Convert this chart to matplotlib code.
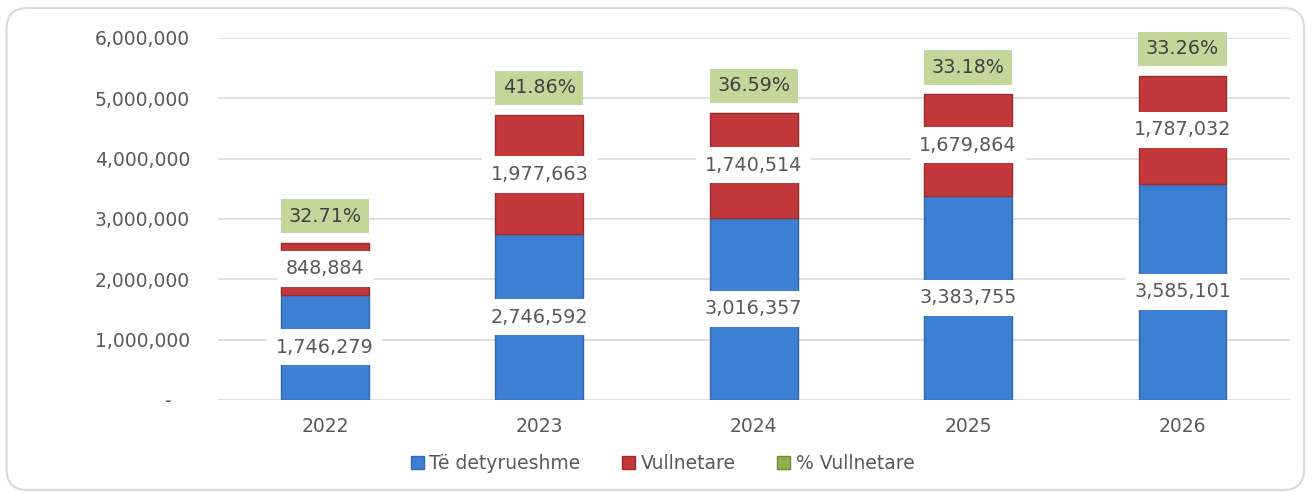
import matplotlib.pyplot as plt
from matplotlib.patches import FancyBboxPatch, Patch
from matplotlib.ticker import FuncFormatter

# te dhenat
years = ['2022', '2023', '2024', '2025', '2026']
detyrueshme = [1746279, 2746592, 3016357, 3383755, 3585101]
vullnetare = [848884, 1977663, 1740514, 1679864, 1787032]
pct_vullnetare = [32.71, 41.86, 36.59, 33.18, 33.26]

blue = '#3d7fd3'
red = '#c3383a'
green = '#c4d79b'
txt = '#595959'

fig = plt.figure(figsize=(13.12, 4.98), dpi=100)
ax = fig.add_axes([0.166, 0.197, 0.817, 0.727])

# kornizë e rrumbullakosur
frame = FancyBboxPatch((0.005, 0.016), 0.989, 0.968, boxstyle='round,pad=0,rounding_size=0.016',
                       transform=fig.transFigure, facecolor='none', edgecolor='#d9d9d9',
                       linewidth=1.5, mutation_aspect=1312 / 498)
fig.patches.append(frame)

x = range(len(years))
w = 0.41
b1 = ax.bar(x, detyrueshme, w, color=blue, edgecolor='#3468ad', linewidth=1, zorder=2)
b2 = ax.bar(x, vullnetare, w, bottom=detyrueshme, color=red, edgecolor='#9a2a2c', linewidth=1, zorder=2)

box = dict(boxstyle='square,pad=0.45', facecolor='white', edgecolor='none')
for i in x:
    ax.text(i, detyrueshme[i] / 2, f'{detyrueshme[i]:,}', ha='center', va='center',
            fontsize=13.8, color=txt, bbox=box, zorder=3)
    ax.text(i, detyrueshme[i] + vullnetare[i] / 2, f'{vullnetare[i]:,}', ha='center', va='center',
            fontsize=13.8, color=txt, bbox=box, zorder=3)
    ax.annotate(f'{pct_vullnetare[i]:.2f}%', (i, detyrueshme[i] + vullnetare[i]),
                xytext=(0, 27), textcoords='offset pixels', ha='center', va='center',
                fontsize=13.8, color='#404040', zorder=3,
                bbox=dict(boxstyle='square,pad=0.4', facecolor=green, edgecolor='none'))

ax.set_xlim(-0.5, len(years) - 0.5)
ax.set_ylim(0, 6000000)
ax.set_yticks(range(0, 6000001, 1000000))
ax.yaxis.set_major_formatter(FuncFormatter(lambda v, p: '-   ' if v == 0 else f'{int(v):,}'))
ax.set_xticks(list(x))
ax.set_xticklabels(years)
ax.grid(axis='y', color='#d9d9d9', linewidth=1.2, zorder=0)
ax.set_axisbelow(True)
for s in ax.spines.values():
    s.set_visible(False)
ax.tick_params(length=0, labelsize=13.5, colors=txt, pad=12)
ax.tick_params(axis='y', pad=20)

handles = [Patch(facecolor=blue, edgecolor='#3468ad'),
           Patch(facecolor=red, edgecolor='#9a2a2c'),
           Patch(facecolor='#8fb34a', edgecolor='#6d8c35')]
fig.legend(handles, ['Të detyrueshme', 'Vullnetare', '% Vullnetare'], loc='center',
           bbox_to_anchor=(0.505, 0.07), ncol=3, frameon=False, fontsize=13.5,
           labelcolor=txt, handlelength=0.7, handleheight=0.7, handletextpad=0.3,
           columnspacing=2.2)

fig.savefig('out.png', dpi=100)
